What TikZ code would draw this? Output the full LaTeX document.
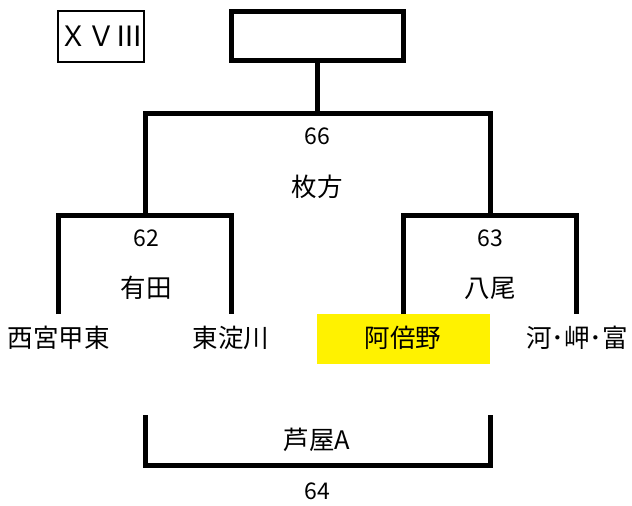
\documentclass[tikz,border=0pt]{standalone}
\usepackage{fontspec}
\newfontfamily\jp{Noto Sans CJK JP}
\begin{document}
\begin{tikzpicture}[x=1pt,y=-1pt,
  thickline/.style={line width=5pt, line join=miter},
  lbl/.style={font=\jp\fontsize{25.5}{30}\selectfont, inner sep=0pt, anchor=center},
  num/.style={font=\jp\fontsize{23}{27}\selectfont, inner sep=0pt, anchor=center}]
\useasboundingbox (0,0) rectangle (632,506);
% title box
\node[draw, line width=2pt, minimum width=86pt, minimum height=51pt, inner sep=0pt,
      font=\jp\fontsize{28}{30}\selectfont] (roman) at (101,36) {ＸＶⅢ};
% top (final) box
\node[draw, line width=5pt, minimum width=172pt, minimum height=49pt] (final) at (317.5,36) {};
% top bracket
\coordinate (topjoin) at (317.5,113);
\coordinate (tl) at (145,113);
\coordinate (tr) at (490,113);
\coordinate (tlb) at (145,213);
\coordinate (trb) at (490,213);
\draw[thickline] (final.south) -- (topjoin);
\draw[thickline] (tlb) -- (tl) -- (tr) -- (trb);
\node[num] (n66) at (317,136) {66};
\node[lbl] (hirakata) at (317,187) {枚方};
% left bracket
\coordinate (lb1) at (58,314);
\coordinate (lb2) at (231,314);
\draw[thickline] (lb1) -- (58,215) -- (231,215) -- (lb2);
\node[num] (n62) at (146,238) {62};
\node[lbl] (arita) at (146,288) {有田};
% right bracket
\fill[yellow] (317,314) rectangle (490,364);
\coordinate (rb1) at (403,314);
\coordinate (rb2) at (576,314);
\draw[thickline] (rb1) -- (403,215) -- (576,215) -- (rb2);
\node[num] (n63) at (490,238) {63};
\node[lbl] (yao) at (490,288) {八尾};
% leaves
\node[lbl] (nishinomiya) at (59,338) {西宮甲東};
\node[lbl] (higashiyodo) at (231,338) {東淀川};
\node[lbl] (abeno) at (403,338) {阿倍野};
\node[lbl] (kawa) at (577,338) {河･岬･富};
% bottom bracket
\coordinate (bl) at (145,415);
\coordinate (br) at (490,415);
\draw[thickline] (bl) -- (145,465) -- (490,465) -- (br);
\node[lbl] (ashiya) at (317,440) {芦屋A};
\node[num] (n64) at (317,491) {64};
\end{tikzpicture}
\end{document}
